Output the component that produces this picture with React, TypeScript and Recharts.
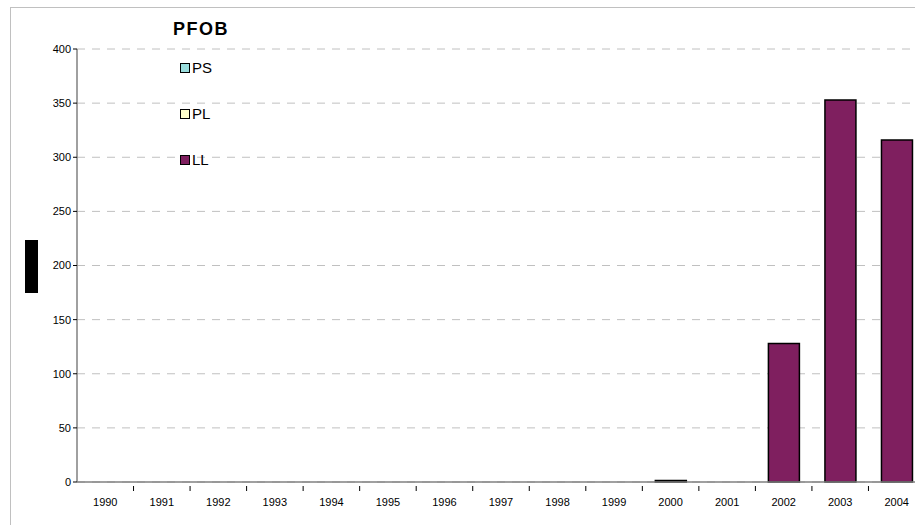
import React from 'react';
import { BarChart, Bar, XAxis, YAxis, CartesianGrid } from 'recharts';

// ─── Data ─────────────────────────────────────────────────────────────────────

const YEARS = [
  '1990', '1991', '1992', '1993', '1994', '1995', '1996', '1997',
  '1998', '1999', '2000', '2001', '2002', '2003', '2004',
];
const PS_VALUES = [0, 0, 0, 0, 0, 0, 0, 0, 0, 0, 0, 0, 0, 0, 0];
const PL_VALUES = [0, 0, 0, 0, 0, 0, 0, 0, 0, 0, 0, 0, 0, 0, 0];
const LL_VALUES = [0, 0, 0, 0, 0, 0, 0, 0, 0, 0, 1.5, 0, 128, 353, 316];
const Y_TICKS = [0, 50, 100, 150, 200, 250, 300, 350, 400];

const SERIES = [
  { key: 'PS', colour: '#99dddd' },
  { key: 'PL', colour: '#ffffcc' },
  { key: 'LL', colour: '#7f1f5f' },
];

const data = YEARS.map((year, i) => ({
  year,
  PS: PS_VALUES[i],
  PL: PL_VALUES[i],
  LL: LL_VALUES[i],
}));

const FONT = '"Liberation Sans", Arial, sans-serif';
const CHART_W = 930;
const PLOT_LEFT = 77;
const PLOT_RIGHT_MARGIN = 5;
const BAND = (CHART_W - PLOT_LEFT - PLOT_RIGHT_MARGIN) / YEARS.length;

// Excel-style category tick: label centred, tick mark on the band boundary
function YearTick(props: any) {
  const { x, y, payload } = props;
  const bx = x + BAND / 2;
  return (
    <g>
      <line x1={bx} y1={y - 4} x2={bx} y2={y + 1} stroke="#000" strokeWidth={1} />
      <text x={x} y={y + 16} textAnchor="middle" fontSize={11} fontFamily={FONT} fill="#000">
        {payload.value}
      </text>
    </g>
  );
}

function LegendBox() {
  return (
    <div style={{ position: 'absolute', left: 173, top: 19, fontFamily: FONT, color: '#000' }}>
      <div style={{ fontSize: 18, fontWeight: 'bold', letterSpacing: 1.5 }}>PFOB</div>
      {SERIES.map((s, i) => (
        <div
          key={s.key}
          style={{
            position: 'absolute',
            left: 7,
            top: 40 + i * 46,
            display: 'flex',
            alignItems: 'center',
            fontSize: 15,
            whiteSpace: 'nowrap',
          }}
        >
          <span
            style={{
              display: 'inline-block',
              width: 8,
              height: 8,
              background: s.colour,
              border: '1px solid #000',
              marginRight: 2,
            }}
          />
          {s.key}
        </div>
      ))}
    </div>
  );
}

export default function App() {
  return (
    <div
      style={{
        position: 'fixed',
        left: 0,
        top: 0,
        width: 915,
        height: 525,
        overflow: 'hidden',
        background: '#fff',
      }}
    >
      <div
        style={{
          position: 'absolute',
          left: 10,
          top: 7,
          width: 960,
          height: 560,
          border: '1px solid #c0c0c0',
        }}
      />
      <div
        style={{
          position: 'absolute',
          left: 25,
          top: 240,
          width: 13,
          height: 53,
          background: '#000',
        }}
      />
      <div style={{ position: 'absolute', left: 0, top: 0 }}>
        <BarChart
          width={CHART_W}
          height={525}
          data={data}
          margin={{ top: 49, right: PLOT_RIGHT_MARGIN, left: 17, bottom: 13 }}
          barCategoryGap="23%"
        >
          <CartesianGrid
            vertical={false}
            stroke="#c0c0c0"
            strokeDasharray="8 7"
          />
          <XAxis
            dataKey="year"
            height={30}
            tickLine={false}
            axisLine={{ stroke: '#808080', strokeWidth: 1.5 }}
            tick={<YearTick />}
            interval={0}
          />
          <YAxis
            width={60}
            domain={[0, 400]}
            ticks={Y_TICKS}
            interval={0}
            tickSize={4}
            tickLine={{ stroke: '#000' }}
            axisLine={{ stroke: '#808080', strokeWidth: 1.5 }}
            tick={{ fontSize: 11, fontFamily: FONT, fill: '#000' }}
          />
          {SERIES.map((s) => (
            <Bar
              key={s.key}
              dataKey={s.key}
              stackId="a"
              fill={s.colour}
              stroke="#000"
              strokeWidth={1.5}
              isAnimationActive={false}
            />
          ))}
        </BarChart>
      </div>
      <LegendBox />
    </div>
  );
}
